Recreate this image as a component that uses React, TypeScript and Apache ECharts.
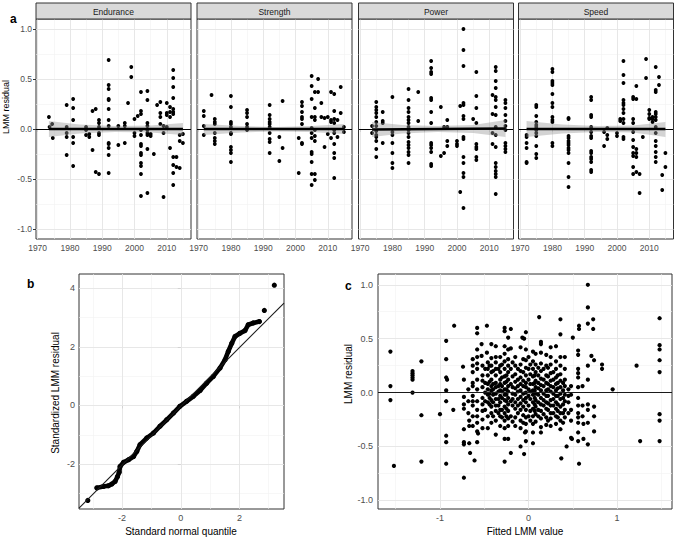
import React, { useEffect, useRef } from "react";
import * as echarts from "echarts";

const facetNames = ["Endurance", "Strength", "Power", "Speed"];
const yearTicks = [1970, 1980, 1990, 2000, 2010];
const yearMinor = [1975, 1985, 1995, 2005, 2015];
const residualTicks = [-1, -0.5, 0, 0.5, 1];
const residualMinor = [-0.75, -0.25, 0.25, 0.75];
const qqXTicks = [-2, 0, 2];
const qqYTicks = [-2, 0, 2, 4];
const qqMinor = [-3, -1, 1, 3];
const fittedTicks = [-1, 0, 1];
const fittedMinor = [-1.5, -0.5, 0.5, 1.5];

const endurance = [
  [1973.5, 0.12], [1973.7, 0.02], [1974.5, 0.05], [1974.7, -0.09],
  [1979, 0.24], [1979, 0.02], [1979, -0.04], [1979, -0.08], [1979, -0.26],
  [1981, 0.3], [1981, 0.21], [1981, 0.09], [1981, -0.08], [1981, -0.14], [1981, -0.37],
  [1985, 0.02], [1985, -0.01], [1985, -0.06], [1986, -0.05], [1986, -0.08],
  [1987, 0.18], [1987, -0.21], [1988, 0.2], [1988, -0.43],
  [1989, 0.09], [1989, 0.06], [1989, 0.02], [1989, -0.04], [1989, -0.06], [1989, -0.45],
  [1992, 0.69], [1992, 0.44], [1992, 0.4], [1992, 0.3], [1992, 0.29], [1992, 0.2], [1992, 0.09], [1992, 0.03],
  [1992, -0.14], [1992, -0.15], [1992, -0.19], [1992, -0.26], [1992, -0.44],
  [1995, -0.16], [1995, 0.03], [1997, 0.06], [1997, 0.03], [1997, -0.14], [1998, 0.26],
  [1999, 0.62], [1999, 0.52], [2000, 0.1], [2000, -0.04], [2000, -0.07], [2001, 0.13],
  [2002, 0.37], [2002, 0.18], [2002, 0.15], [2002, -0.01], [2002, -0.06], [2002, -0.15], [2002, -0.17],
  [2002, -0.24], [2002, -0.26], [2002, -0.34], [2002, -0.37], [2002, -0.45], [2002, -0.67],
  [2004, 0.38], [2004, 0.29], [2004, 0.06], [2004, 0.03], [2004, -0.01], [2004, -0.04], [2004, -0.06], [2004, -0.2], [2004, -0.64],
  [2005, -0.05], [2005, -0.07], [2006, -0.25], [2007, 0.24],
  [2008, 0.27], [2008, 0.16], [2008, 0.12], [2008, 0.05], [2009, 0.03], [2009, -0.04], [2009, -0.68],
  [2010, 0.26], [2010, 0.16], [2010, 0.14], [2010, 0.02], [2011, 0.22], [2011, 0.17], [2011, 0.12], [2011, -0.19],
  [2012, 0.59], [2012, 0.51], [2012, 0.42], [2012, 0.31], [2012, 0.2], [2012, 0.17], [2012, 0.15],
  [2012, -0.28], [2012, -0.36], [2012, -0.44], [2012, -0.56],
  [2013, -0.28], [2013, -0.38], [2014, -0.06], [2014, -0.12], [2014, -0.39], [2015, -0.05], [2015, -0.14],
];

const strength = [
  [1971.6, 0.18], [1971.6, 0.13], [1971.6, 0.03], [1971.6, -0.06], [1974, 0.34],
  [1975, 0.1], [1975, 0.07], [1975, 0.05], [1975, -0.04], [1975, -0.09], [1975, -0.12], [1975, -0.15],
  [1980, 0.33], [1980, 0.22], [1980, 0.07], [1980, 0.05], [1980, 0.02], [1980, -0.04], [1980, -0.05],
  [1980, -0.18], [1980, -0.21], [1980, -0.24], [1980, -0.33],
  [1985, 0.19], [1985, 0.16], [1985, 0.12], [1985, 0.05], [1985, 0.02], [1985, -0.01],
  [1992, 0.24], [1992, 0.14], [1992, 0.1], [1992, 0.07], [1992, 0.05], [1992, 0.02], [1992, -0.04],
  [1992, -0.1], [1992, -0.13], [1992, -0.24],
  [1995, -0.08], [1995, -0.32], [1996, 0.28], [1996, -0.19], [2001, -0.09], [2001, -0.44],
  [2002, 0.27], [2002, 0.23], [2002, 0.17], [2002, 0.12], [2002, 0.1], [2002, 0.05], [2002, -0.14], [2002, -0.15],
  [2005, 0.53], [2005, 0.43], [2005, 0.3], [2005, 0.12], [2005, 0.01], [2005, -0.04], [2005, -0.09],
  [2005, -0.23], [2005, -0.25], [2005, -0.33], [2005, -0.45], [2005, -0.56],
  [2006, 0.37], [2006, 0.21], [2006, 0.12], [2006, 0.09], [2006, -0.01], [2006, -0.07], [2006, -0.12], [2006, -0.45], [2006, -0.51],
  [2007, 0.5], [2007, 0.37], [2008, 0.26], [2008, 0.12], [2009, 0.11], [2009, -0.18], [2010, 0.12], [2010, -0.05],
  [2011, 0.37], [2011, 0.09], [2011, 0.07], [2011, -0.09],
  [2012, 0.35], [2012, 0.18], [2012, 0.1], [2012, 0.06], [2012, -0.01], [2012, -0.04], [2012, -0.15], [2012, -0.24], [2012, -0.29], [2012, -0.49],
  [2013, 0.09], [2013, -0.08], [2014, 0.42], [2014, 0.16], [2015, 0.02], [2015, -0.03],
];

const power = [
  [1973.7, 0.03], [1973.7, -0.04],
  [1975, 0.27], [1975, 0.22], [1975, 0.19], [1975, 0.16], [1975, 0.12], [1975, 0.07], [1975, 0.03], [1975, -0.02],
  [1975, -0.06], [1975, -0.08], [1975, -0.12], [1975, -0.2], [1975, -0.28],
  [1977, 0.17], [1977, 0.08], [1977, 0.06], [1977, -0.14],
  [1980, 0.32], [1980, -0.03], [1980, -0.06], [1980, -0.14], [1980, -0.24], [1980, -0.34], [1980, -0.39],
  [1985, 0.4], [1985, 0.29], [1985, 0.21], [1985, 0.17], [1985, 0.12], [1985, 0.09], [1985, 0.06], [1985, 0.02], [1985, -0.01],
  [1985, -0.04], [1985, -0.08], [1985, -0.13], [1985, -0.16], [1985, -0.19], [1985, -0.23], [1985, -0.26], [1985, -0.34],
  [1988, 0.37], [1988, 0.08],
  [1992, 0.68], [1992, 0.61], [1992, 0.57], [1992, 0.55], [1992, 0.31], [1992, 0.29], [1992, 0.17], [1992, 0.06],
  [1992, -0.14], [1992, -0.16], [1992, -0.19], [1992, -0.23], [1992, -0.35], [1992, -0.37],
  [1995, 0.22], [1995, -0.27], [1996, 0.02], [1996, -0.24], [1997, 0.09], [1997, 0.02], [1997, -0.12], [1997, -0.17],
  [2000, -0.12], [2000, -0.15], [2000, -0.17], [2001, 0.23], [2001, -0.63],
  [2002, 1.0], [2002, 0.79], [2002, 0.63], [2002, 0.26], [2002, 0.24], [2002, 0.13], [2002, 0.1], [2002, -0.08],
  [2002, -0.1], [2002, -0.28], [2002, -0.34], [2002, -0.44], [2002, -0.48], [2002, -0.79],
  [2005, 0.1],
  [2006, 0.57], [2006, 0.33], [2006, 0.21], [2006, 0.06], [2006, -0.15], [2006, -0.18], [2006, -0.2], [2006, -0.28], [2006, -0.31],
  [2011, 0.34], [2011, 0.15], [2011, -0.04], [2011, -0.15],
  [2012, 0.62], [2012, 0.58], [2012, 0.48], [2012, 0.41], [2012, 0.32], [2012, 0.29], [2012, 0.22], [2012, 0.14], [2012, 0.02],
  [2012, -0.06], [2012, -0.18], [2012, -0.34], [2012, -0.38], [2012, -0.42], [2012, -0.45], [2012, -0.48], [2012, -0.65],
  [2015, 0.29], [2015, 0.26], [2015, 0.21], [2015, 0.14], [2015, 0.08], [2015, 0.03], [2015, -0.01], [2015, -0.14],
  [2015, -0.17], [2015, -0.2], [2015, -0.23],
];

const speed = [
  [1972, -0.06], [1972, -0.08], [1972, -0.14], [1972, -0.19], [1972, -0.33], [1972, -0.34],
  [1975, 0.24], [1975, 0.22], [1975, 0.13], [1975, 0.07], [1975, 0.04], [1975, 0.02], [1975, -0.01], [1975, -0.04],
  [1975, -0.07], [1975, -0.17], [1975, -0.25], [1975, -0.29],
  [1980, 0.6], [1980, 0.57], [1980, 0.48], [1980, 0.46], [1980, 0.44], [1980, 0.35], [1980, 0.26], [1980, 0.22],
  [1980, 0.12], [1980, 0.09], [1980, 0.07], [1980, -0.14], [1980, -0.17],
  [1985, 0.11], [1985, 0.1], [1985, -0.07], [1985, -0.09], [1985, -0.12], [1985, -0.14], [1985, -0.16], [1985, -0.19],
  [1985, -0.21], [1985, -0.24], [1985, -0.34], [1985, -0.48], [1985, -0.58],
  [1992, 0.32], [1992, 0.29], [1992, 0.14], [1992, 0.12], [1992, 0.02], [1992, -0.03], [1992, -0.07], [1992, -0.09],
  [1992, -0.22], [1992, -0.24], [1992, -0.28], [1992, -0.3], [1992, -0.33], [1992, -0.41], [1992, -0.43],
  [1996, -0.03], [1996, -0.17], [1997, 0.01], [1997, -0.06], [1997, -0.1], [2000, -0.04], [2000, -0.07], [2001, 0.1], [2001, 0.08],
  [2002, 0.68], [2002, 0.54], [2002, 0.46], [2002, 0.29], [2002, 0.26], [2002, 0.24], [2002, 0.2], [2002, 0.16],
  [2002, 0.1], [2002, 0.06], [2002, -0.08], [2002, -0.1],
  [2005, 0.32], [2005, 0.3], [2005, 0.1], [2005, 0.06], [2005, -0.03], [2005, -0.11], [2005, -0.18], [2005, -0.24],
  [2005, -0.27], [2005, -0.38], [2005, -0.45],
  [2006, 0.43], [2006, 0.3], [2006, -0.2], [2006, -0.24], [2006, -0.28], [2006, -0.43],
  [2007, -0.45], [2007, -0.64], [2008, -0.08], [2009, 0.7], [2009, 0.51],
  [2010, 0.19], [2010, 0.15], [2010, 0.11], [2010, 0.1], [2011, 0.12], [2011, 0.1], [2011, 0.07],
  [2012, 0.62], [2012, 0.39], [2012, 0.37], [2012, 0.17], [2012, 0.15], [2012, 0.12], [2012, 0.09], [2012, 0.02],
  [2012, -0.04], [2012, -0.12], [2012, -0.17], [2012, -0.23], [2012, -0.28], [2012, -0.33],
  [2013, 0.52], [2013, 0.44], [2014, -0.46], [2014, -0.61], [2015, -0.24], [2015, -0.38],
];

const facetData = [endurance, strength, power, speed];

// confidence band of the smooth fit, per facet
const bandYears = [
  [1973.5, 1983, 1994, 2005, 2015],
  [1971.6, 1983, 1994, 2005, 2015],
  [1973.7, 1983, 1994, 2005, 2015],
  [1972, 1983, 1994, 2005, 2015],
];
const bandLower = [
  [-0.08, -0.045, -0.03, -0.035, -0.06],
  [-0.06, -0.035, -0.025, -0.03, -0.05],
  [-0.08, -0.045, -0.03, -0.04, -0.08],
  [-0.08, -0.045, -0.03, -0.035, -0.08],
];
const bandUpper = [
  [0.08, 0.045, 0.03, 0.035, 0.06],
  [0.05, 0.03, 0.02, 0.03, 0.05],
  [0.07, 0.04, 0.03, 0.04, 0.09],
  [0.08, 0.045, 0.03, 0.035, 0.07],
];
const fitLines = [
  [[1973.5, 0.0], [2015, 0.0]],
  [[1971.6, 0.0], [2015, 0.0]],
  [[1973.7, -0.005], [2015, 0.005]],
  [[1972, 0.0], [2015, 0.0]],
];

const qqPoints = [
  [-3.17, -3.24], [-2.86, -2.81], [-2.64, -2.76], [-2.47, -2.74], [-2.35, -2.68], [-2.24, -2.59], [-2.16, -2.43],
  [-2.1, -2.28], [-2.07, -2.08], [-1.95, -1.94], [-1.78, -1.85], [-1.61, -1.74], [-1.5, -1.57], [-1.39, -1.34],
  [-1.16, -1.11], [-0.93, -0.94], [-0.71, -0.71], [-0.48, -0.49], [-0.25, -0.26], [-0.03, -0.03], [0.2, 0.14],
  [0.43, 0.31], [0.66, 0.51], [0.88, 0.76], [1.11, 0.99], [1.34, 1.28], [1.51, 1.56], [1.62, 1.84], [1.74, 2.12],
  [1.85, 2.35], [2.02, 2.46], [2.19, 2.55], [2.3, 2.75], [2.47, 2.81], [2.68, 2.86], [2.85, 3.24], [3.19, 4.1],
];
const qqRefLine = [[-3.47, -3.5], [3.52, 3.49]];

const fittedResidual = [
  [-1.56, 0.38], [-1.56, 0.06], [-1.56, -0.07], [-1.52, -0.68],
  [-1.31, 0.2], [-1.31, 0.18], [-1.31, 0.16], [-1.31, 0.14], [-1.31, 0.12], [-1.31, 0.0],
  [-1.21, 0.29], [-1.21, -0.21], [-1.21, -0.64], [-1.0, -0.2],
  [-0.93, 0.48], [-0.93, 0.31], [-0.93, 0.14], [-0.92, 0.12], [-0.93, 0.02], [-0.93, -0.08], [-0.93, -0.4], [-0.93, -0.46], [-0.93, -0.66],
  [-0.85, -0.16], [-0.84, 0.62],
  [-0.74, 0.24], [-0.73, 0.12], [-0.73, -0.04], [-0.73, -0.11], [-0.73, -0.15], [-0.73, -0.34], [-0.73, -0.46], [-0.73, -0.48], [-0.73, -0.79],
  [-0.68, 0.03], [-0.68, -0.08], [-0.68, -0.19], [-0.67, -0.26], [-0.67, -0.31], [-0.67, -0.47], [-0.66, -0.56],
  [-0.63, 0.31], [-0.63, 0.25], [-0.63, 0.19], [-0.63, 0.09], [-0.63, 0.06], [-0.63, -0.03], [-0.63, -0.08], [-0.63, -0.12],
  [-0.63, -0.22], [-0.63, -0.31], [-0.61, -0.63],
  [-0.58, 0.6], [-0.58, 0.55], [-0.58, 0.4], [-0.58, 0.33], [-0.58, 0.27], [-0.58, 0.22], [-0.58, 0.12], [-0.58, 0.03],
  [-0.58, -0.08], [-0.58, -0.16], [-0.58, -0.22], [-0.58, -0.28], [-0.58, -0.36], [-0.57, -0.38], [-0.58, -0.46],
  [-0.53, 0.45], [-0.53, 0.34], [-0.52, 0.25], [-0.52, 0.16], [-0.52, 0.11], [-0.52, 0.05], [-0.52, -0.05], [-0.52, -0.11],
  [-0.52, -0.17], [-0.52, -0.25], [-0.52, -0.33],
  [-0.47, 0.62], [-0.47, 0.37], [-0.46, 0.28], [-0.46, 0.22], [-0.46, 0.16], [-0.46, 0.08], [-0.46, 0.03], [-0.46, -0.02],
  [-0.46, -0.09], [-0.46, -0.22], [-0.46, -0.33],
  [-0.42, 0.45], [-0.42, 0.32], [-0.42, 0.25], [-0.42, 0.19], [-0.42, 0.12], [-0.42, 0.06], [-0.42, 0.02], [-0.42, -0.07],
  [-0.42, -0.13], [-0.42, -0.19], [-0.42, -0.28],
  [-0.37, 0.43], [-0.37, 0.33], [-0.37, 0.28], [-0.37, 0.22], [-0.37, 0.16], [-0.37, 0.09], [-0.37, 0.05], [-0.37, -0.01],
  [-0.37, -0.06], [-0.37, -0.12], [-0.37, -0.17], [-0.37, -0.26], [-0.37, -0.39],
  [-0.32, 0.33], [-0.32, 0.25], [-0.32, 0.19], [-0.32, 0.12], [-0.32, 0.08], [-0.32, 0.02], [-0.32, -0.03], [-0.32, -0.09],
  [-0.32, -0.16], [-0.32, -0.22], [-0.32, -0.31],
  [-0.27, 0.6], [-0.27, 0.57], [-0.27, 0.43], [-0.27, 0.36], [-0.27, 0.29], [-0.27, 0.22], [-0.27, 0.15], [-0.27, 0.09],
  [-0.27, 0.03], [-0.27, -0.02], [-0.27, -0.07], [-0.27, -0.13], [-0.27, -0.19], [-0.27, -0.26], [-0.27, -0.33], [-0.27, -0.43], [-0.27, -0.64],
  [-0.23, 0.51], [-0.23, 0.4], [-0.23, 0.31], [-0.23, 0.25], [-0.23, 0.19], [-0.23, 0.12], [-0.23, 0.06], [-0.23, 0.01],
  [-0.23, -0.05], [-0.23, -0.11], [-0.23, -0.17], [-0.23, -0.24], [-0.23, -0.31], [-0.23, -0.43],
  [-0.2, 0.59], [-0.2, 0.41], [-0.2, 0.22], [-0.2, 0.08], [-0.2, -0.08], [-0.2, -0.22], [-0.2, -0.56],
  [-0.15, 0.33], [-0.15, 0.25], [-0.15, 0.17], [-0.15, 0.1], [-0.15, 0.04], [-0.15, -0.02], [-0.15, -0.09], [-0.15, -0.15],
  [-0.15, -0.23], [-0.15, -0.31],
  [-0.09, 0.42], [-0.09, 0.26], [-0.09, 0.2], [-0.09, 0.14], [-0.09, 0.08], [-0.09, 0.02], [-0.09, -0.04], [-0.09, -0.1],
  [-0.09, -0.16], [-0.09, -0.26], [-0.09, -0.33], [-0.09, -0.5],
  [-0.07, 0.51], [-0.05, 0.5], [-0.05, -0.57], [-0.04, -0.37],
  [-0.03, 0.56], [-0.03, 0.4], [-0.03, 0.3], [-0.03, 0.23], [-0.03, 0.16], [-0.03, 0.09], [-0.03, 0.05], [-0.03, 0.0],
  [-0.03, -0.05], [-0.03, -0.09], [-0.03, -0.16], [-0.03, -0.23], [-0.03, -0.29], [-0.03, -0.36], [-0.03, -0.45],
  [0.0, 0.33], [0.0, 0.22], [0.0, 0.12], [0.0, 0.03], [0.0, -0.03], [0.0, -0.12], [0.0, -0.22],
  [0.05, 0.38], [0.05, 0.29], [0.05, 0.22], [0.05, 0.15], [0.05, 0.08], [0.05, 0.02], [0.05, -0.02], [0.05, -0.09],
  [0.05, -0.15], [0.05, -0.22], [0.05, -0.29], [0.05, -0.37], [0.05, -0.47],
  [0.08, 0.36], [0.08, 0.26], [0.08, 0.19], [0.08, 0.11], [0.08, 0.05], [0.08, -0.01], [0.08, -0.07], [0.08, -0.13],
  [0.08, -0.2], [0.08, -0.27],
  [0.12, 0.7], [0.14, 0.47], [0.14, 0.45], [0.14, 0.37], [0.14, 0.27], [0.14, 0.2], [0.14, 0.13], [0.14, 0.07],
  [0.14, 0.02], [0.14, -0.05], [0.14, -0.11], [0.14, -0.17], [0.14, -0.24], [0.14, -0.32], [0.14, -0.37],
  [0.2, 0.35], [0.2, 0.25], [0.2, 0.16], [0.2, 0.09], [0.2, 0.02], [0.2, -0.03], [0.2, -0.09], [0.2, -0.15], [0.2, -0.23], [0.2, -0.3],
  [0.25, 0.42], [0.25, 0.33], [0.25, 0.26], [0.25, 0.18], [0.25, 0.11], [0.25, 0.06], [0.25, 0.01], [0.25, -0.07],
  [0.25, -0.12], [0.25, -0.19], [0.25, -0.24], [0.25, -0.31],
  [0.31, 0.43], [0.31, 0.29], [0.31, 0.22], [0.31, 0.14], [0.31, 0.08], [0.31, 0.02], [0.31, -0.03], [0.31, -0.09],
  [0.31, -0.15], [0.31, -0.22], [0.31, -0.29],
  [0.36, 0.68], [0.36, 0.54], [0.36, 0.33], [0.36, 0.25], [0.36, 0.17], [0.36, 0.11], [0.36, 0.05], [0.36, -0.01],
  [0.36, -0.06], [0.36, -0.13], [0.36, -0.19], [0.36, -0.26], [0.36, -0.34], [0.37, -0.61],
  [0.41, 0.33], [0.41, 0.22], [0.41, 0.12], [0.41, 0.06], [0.41, -0.02], [0.41, -0.08], [0.41, -0.16], [0.41, -0.23], [0.43, -0.5],
  [0.48, -0.02], [0.48, 0.06], [0.48, -0.16], [0.48, -0.26], [0.48, -0.42], [0.49, -0.43], [0.5, 0.51],
  [0.56, 0.39], [0.56, 0.35], [0.56, 0.22], [0.56, 0.18], [0.56, 0.14], [0.56, 0.05], [0.56, -0.05], [0.56, -0.12],
  [0.56, -0.19], [0.56, -0.23], [0.56, -0.28], [0.56, -0.37], [0.56, -0.45], [0.57, -0.66], [0.57, 0.62], [0.57, 0.59],
  [0.61, 0.06], [0.61, -0.12], [0.61, -0.22], [0.62, -0.29], [0.62, -0.43],
  [0.67, 1.0], [0.67, 0.79], [0.67, 0.64], [0.67, 0.25], [0.67, 0.12], [0.67, -0.11], [0.67, -0.16], [0.67, -0.28], [0.67, -0.48],
  [0.71, 0.34], [0.73, 0.59], [0.73, 0.68], [0.74, 0.3], [0.74, -0.13], [0.74, -0.22], [0.74, -0.36],
  [0.83, 0.26], [0.83, 0.22], [0.95, 0.03], [1.22, 0.25], [1.26, -0.45],
  [1.48, 0.69], [1.48, 0.44], [1.48, 0.4], [1.48, 0.3], [1.48, 0.19], [1.48, -0.2], [1.48, -0.26], [1.48, -0.45],
  // dense core
  [-0.49, 0.22], [-0.49, 0.09], [-0.49, 0.0], [-0.49, -0.08], [-0.49, -0.16],
  [-0.44, 0.25], [-0.44, 0.1], [-0.44, -0.01], [-0.44, -0.05], [-0.44, -0.11],
  [-0.4, 0.2], [-0.4, 0.08], [-0.4, 0.03], [-0.4, -0.02], [-0.4, -0.09], [-0.4, -0.22],
  [-0.34, 0.22], [-0.34, 0.06], [-0.34, 0.01], [-0.34, -0.06], [-0.34, -0.12], [-0.34, -0.19],
  [-0.3, 0.26], [-0.3, 0.14], [-0.3, 0.06], [-0.3, 0.01], [-0.3, -0.05], [-0.3, -0.16], [-0.3, -0.23],
  [-0.25, 0.16], [-0.25, 0.1], [-0.25, 0.03], [-0.25, -0.02], [-0.25, -0.08], [-0.25, -0.15], [-0.25, -0.22],
  [-0.18, 0.28], [-0.18, 0.15], [-0.18, 0.05], [-0.18, -0.01], [-0.18, -0.06], [-0.18, -0.12], [-0.18, -0.27],
  [-0.12, 0.22], [-0.12, 0.12], [-0.12, 0.06], [-0.12, 0.01], [-0.12, -0.06], [-0.12, -0.12], [-0.12, -0.19],
  [-0.06, 0.31], [-0.06, 0.19], [-0.06, 0.11], [-0.06, 0.06], [-0.06, -0.01], [-0.06, -0.07], [-0.06, -0.13], [-0.06, -0.21], [-0.06, -0.28],
  [0.02, 0.26], [0.02, 0.17], [0.02, 0.08], [0.02, 0.01], [0.02, -0.06], [0.02, -0.17], [0.02, -0.26],
  [0.07, 0.16], [0.07, 0.09], [0.07, 0.02], [0.07, -0.05], [0.07, -0.11], [0.07, -0.17],
  [0.11, 0.23], [0.11, 0.16], [0.11, 0.09], [0.11, 0.04], [0.11, -0.02], [0.11, -0.09], [0.11, -0.16], [0.11, -0.22],
  [0.17, 0.22], [0.17, 0.12], [0.17, 0.06], [0.17, -0.01], [0.17, -0.07], [0.17, -0.12], [0.17, -0.2],
  [0.22, 0.23], [0.22, 0.15], [0.22, 0.08], [0.22, 0.03], [0.22, -0.03], [0.22, -0.1], [0.22, -0.16], [0.22, -0.26],
  [0.28, 0.19], [0.28, 0.12], [0.28, 0.05], [0.28, -0.01], [0.28, -0.06], [0.28, -0.12], [0.28, -0.19],
  [0.33, 0.16], [0.33, 0.09], [0.33, 0.04], [0.33, -0.03], [0.33, -0.11], [0.33, -0.17], [0.33, -0.23],
  [0.39, 0.09], [0.39, 0.02], [0.39, -0.05], [0.39, -0.11], [0.39, -0.19], [0.39, -0.28],
  [0.45, 0.03], [0.45, -0.03], [0.45, -0.09], [0.45, -0.19],
];

const FONT = "'Liberation Sans', Arial, Helvetica, sans-serif";
const TICK = "#333333";
const LABEL = "#4d4d4d";
const MAJOR = { color: "#e4e4e4", width: 0.9, type: "solid" };
const MINOR = { color: "#f1f1f1", width: 0.6, type: "solid" };

const facetLefts = [36, 197, 358.5, 518.5];
const facetWidth = 155;
const facetTop = 19;
const facetHeight = 220;

function gridLineSeries(idx: number, xMajor: number[], xMinor: number[], yMajor: number[], yMinor: number[]) {
  return {
    type: "line",
    xAxisIndex: idx,
    yAxisIndex: idx,
    data: [],
    z: 1,
    silent: true,
    markLine: {
      z: 1,
      silent: true,
      symbol: ["none", "none"],
      label: { show: false },
      emphasis: { disabled: true },
      data: [
        ...xMinor.map((v) => ({ xAxis: v, lineStyle: MINOR })),
        ...yMinor.map((v) => ({ yAxis: v, lineStyle: MINOR })),
        ...xMajor.map((v) => ({ xAxis: v, lineStyle: MAJOR })),
        ...yMajor.map((v) => ({ yAxis: v, lineStyle: MAJOR })),
      ],
    },
  };
}

function axis(idx: number, min: number, max: number, ticks: number[], showLabels: boolean, fontSize: number, margin: number, fmt: (v: number) => string) {
  return {
    type: "value",
    gridIndex: idx,
    min,
    max,
    axisLine: { show: false },
    splitLine: { show: false },
    axisTick: { show: showLabels, length: 3, customValues: ticks, lineStyle: { color: TICK, width: 1 } },
    axisLabel: {
      show: showLabels,
      customValues: ticks,
      fontSize,
      color: LABEL,
      margin,
      fontFamily: FONT,
      formatter: (v: number) => fmt(v),
    },
  };
}

const fmt1 = (v: number) => (Math.abs(v) < 1e-9 ? "0.0" : v.toFixed(1));
const fmt0 = (v: number) => String(Math.round(v));

const DOT = { color: "#000", opacity: 1, borderWidth: 0 };

function buildOption() {
  const grids: any[] = [];
  const xAxes: any[] = [];
  const yAxes: any[] = [];
  const series: any[] = [];
  const graphics: any[] = [];

  facetNames.forEach((name, i) => {
    const left = facetLefts[i];
    grids.push({
      left, top: facetTop, width: facetWidth, height: facetHeight,
      show: true, borderColor: "#333", borderWidth: 1, backgroundColor: "#fff",
    });
    xAxes.push(axis(i, 1969.5, 2017.5, yearTicks, true, 8.5, 4, fmt0));
    yAxes.push(axis(i, -1.1, 1.1, residualTicks, i === 0, 8.5, 4, fmt1));
    series.push(gridLineSeries(i, yearTicks, yearMinor, residualTicks, residualMinor));
    series.push({
      type: "scatter", xAxisIndex: i, yAxisIndex: i, data: facetData[i],
      symbolSize: 3.8, itemStyle: DOT, z: 2, silent: true,
      markLine: {
        z: 2,
        silent: true, symbol: ["none", "none"], label: { show: false },
        data: [{ yAxis: 0, lineStyle: { color: "#000", width: 1, type: "solid" } }],
      },
    });
    series.push({
      type: "custom", xAxisIndex: i, yAxisIndex: i, z: 3, silent: true,
      data: [[bandYears[i][0], bandLower[i][0]]],
      renderItem: (_p: any, api: any) => {
        const ys = bandYears[i];
        const up = ys.map((x, k) => api.coord([x, bandUpper[i][k]]));
        const lo = ys.map((x, k) => api.coord([x, bandLower[i][k]])).reverse();
        return {
          type: "polygon",
          shape: { points: [...up, ...lo] },
          style: { fill: "rgba(150,150,150,0.42)" },
        };
      },
    });
    series.push({
      type: "line", xAxisIndex: i, yAxisIndex: i, data: fitLines[i], z: 4, silent: true,
      symbol: "none", lineStyle: { color: "#000", width: 2.4 },
    });
    graphics.push({
      type: "rect", shape: { x: left, y: 3, width: facetWidth, height: 16 },
      style: { fill: "#d9d9d9", stroke: "#333", lineWidth: 1 }, z: 10,
    });
    graphics.push({
      type: "text", x: left + facetWidth / 2, y: 11.5, z: 11,
      style: { text: name, fontSize: 8.5, fill: "#1a1a1a", align: "center", verticalAlign: "middle", fontFamily: FONT },
    });
  });

  // panel b: QQ plot
  grids.push({ left: 79, top: 274, width: 205, height: 235, show: true, borderColor: "#333", borderWidth: 1, backgroundColor: "#fff" });
  xAxes.push(axis(4, -3.47, 3.52, qqXTicks, true, 9, 4, fmt0));
  yAxes.push(axis(4, -3.53, 4.48, qqYTicks, true, 9, 4, fmt0));
  series.push(gridLineSeries(4, qqXTicks, qqMinor, qqYTicks, qqMinor));
  series.push({
    type: "line", xAxisIndex: 4, yAxisIndex: 4, data: qqPoints.slice(1, -2), z: 3, silent: true,
    symbol: "none", lineStyle: { color: "#000", width: 4.6, cap: "round", join: "round", opacity: 1 },
  });
  series.push({
    type: "scatter", xAxisIndex: 4, yAxisIndex: 4, data: qqPoints, z: 3, silent: true,
    symbolSize: 5.2, itemStyle: DOT,
  });
  series.push({
    type: "line", xAxisIndex: 4, yAxisIndex: 4, data: qqRefLine, z: 4, silent: true,
    symbol: "none", lineStyle: { color: "#1a1a1a", width: 1.1 },
  });

  // panel c: fitted vs residual
  grids.push({ left: 378, top: 274, width: 294, height: 235, show: true, borderColor: "#333", borderWidth: 1, backgroundColor: "#fff" });
  xAxes.push(axis(5, -1.7, 1.62, fittedTicks, true, 9, 4, fmt0));
  yAxes.push(axis(5, -1.08, 1.1, residualTicks, true, 9, 5, fmt1));
  series.push(gridLineSeries(5, fittedTicks, fittedMinor, residualTicks, residualMinor));
  series.push({
    type: "scatter", xAxisIndex: 5, yAxisIndex: 5, data: fittedResidual, z: 2, silent: true,
    symbolSize: 4.2, itemStyle: DOT,
    markLine: {
      z: 3,
      silent: true, symbol: ["none", "none"], label: { show: false },
      data: [{ yAxis: 0, lineStyle: { color: "#1a1a1a", width: 1, type: "solid" } }],
    },
  });

  const title = (text: string, x: number, y: number, rot: number, size: number) => ({
    type: "text", x, y, rotation: rot, z: 11,
    style: { text, fontSize: size, fill: "#000", align: "center", verticalAlign: "middle", fontFamily: FONT },
  });
  const letter = (text: string, x: number, y: number) => ({
    type: "text", x, y, z: 11,
    style: { text, fontSize: 12, fontWeight: "bold", fill: "#000", align: "left", verticalAlign: "alphabetic", fontFamily: FONT },
  });

  graphics.push(letter("a", 10, 13));
  graphics.push(letter("b", 27, 278));
  graphics.push(letter("c", 345, 280));
  graphics.push(title("LMM residual", 6, 107, Math.PI / 2, 9));
  graphics.push(title("Standardized LMM residual", 55, 393, Math.PI / 2, 10));
  graphics.push(title("Standard normal quantile", 181, 531, 0, 10));
  graphics.push(title("LMM residual", 348, 374, Math.PI / 2, 10));
  graphics.push(title("Fitted LMM value", 525, 531, 0, 10));

  return {
    animation: false,
    backgroundColor: "#fff",
    textStyle: { fontFamily: FONT },
    grid: grids,
    xAxis: xAxes,
    yAxis: yAxes,
    series,
    graphic: { elements: graphics },
  };
}

export default function App() {
  const ref = useRef<HTMLDivElement>(null);
  useEffect(() => {
    if (!ref.current) return;
    const chart = echarts.init(ref.current, null, { renderer: "svg" });
    chart.setOption(buildOption() as any);
    return () => chart.dispose();
  }, []);
  return (
    <div
      ref={ref}
      style={{ position: "absolute", left: 0, top: 0, width: 676, height: 538, background: "#fff" }}
    />
  );
}
